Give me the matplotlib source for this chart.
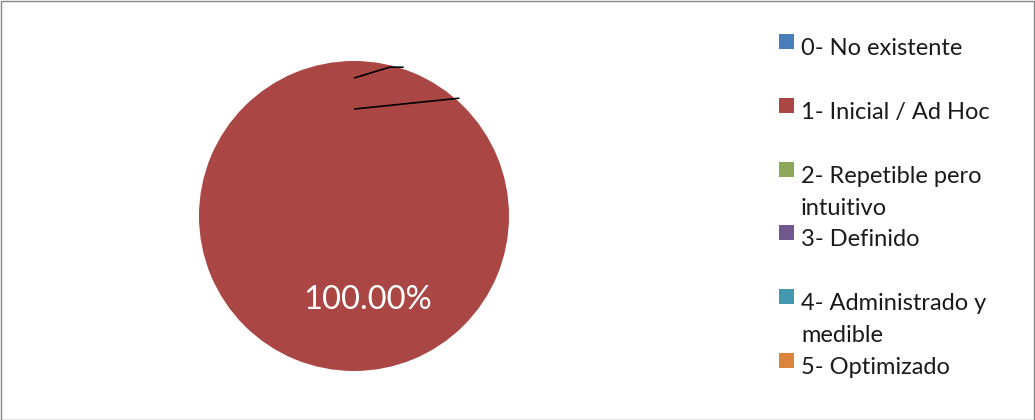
import matplotlib
matplotlib.use("Agg")
import matplotlib.pyplot as plt
from matplotlib.patches import Rectangle

categories = ["0- No existente", "1- Inicial / Ad Hoc", "2- Repetible pero\nintuitivo",
              "3- Definido", "4- Administrado y\nmedible", "5- Optimizado"]
values = [0.0, 100.0, 0.0, 0.0, 0.0, 0.0]
colors = ["#4A7EBB", "#AA4644", "#8EA85A", "#71588F", "#4198AF", "#DB843D"]

plt.rcParams['font.family'] = ['Lato', 'DejaVu Sans']

W, H = 1035, 420
fig = plt.figure(figsize=(W / 100, H / 100), dpi=100)
fig.patch.set_facecolor("white")

# border
fig.add_artist(Rectangle((0.5 / W, 0.5 / H), 1 - 1.5 / W, 1 - 1.5 / H, transform=fig.transFigure,
                         fill=False, edgecolor="#888888", linewidth=1))

cx, cy, r = 354, 216, 155
ax = fig.add_axes([(cx - r) / W, (H - cy - r) / H, 2 * r / W, 2 * r / H])
wedges, texts, autotexts = ax.pie(values, colors=colors, startangle=90, counterclock=False,
                                  radius=1, autopct=lambda p: f"{p:.2f}%" if p > 0 else "",
                                  pctdistance=0.6,
                                  textprops=dict(color="white", fontsize=23.5),
                                  wedgeprops=dict(linewidth=0))
for t in autotexts:
    if t.get_text():
        t.set_position((0.09, -0.545))
ax.set_xlim(-1, 1)
ax.set_ylim(-1, 1)
ax.set_aspect("equal")
ax.axis("off")

# leader lines for the zero-value slices
ax.plot([0, 0.23, 0.32], [0.89, 0.96, 0.96], color="black", lw=1.2, solid_capstyle="butt")
ax.plot([0, 0.68], [0.69, 0.76], color="black", lw=1.2, solid_capstyle="butt")

# legend (manual, Excel-like fixed pitch)
first_base = 55
pitch = 63.8
line_gap = 32
for i, (lab, col) in enumerate(zip(categories, colors)):
    base = first_base + i * pitch
    fig.add_artist(Rectangle((779 / W, (H - base + 6) / H), 15 / W, 15 / H,
                             transform=fig.transFigure, facecolor=col, edgecolor="none"))
    for j, line in enumerate(lab.split("\n")):
        fig.text(801 / W, (H - base - j * line_gap) / H, line, fontsize=17,
                 ha="left", va="baseline", color="#1a1a1a")

fig.savefig("out.png", dpi=100)
